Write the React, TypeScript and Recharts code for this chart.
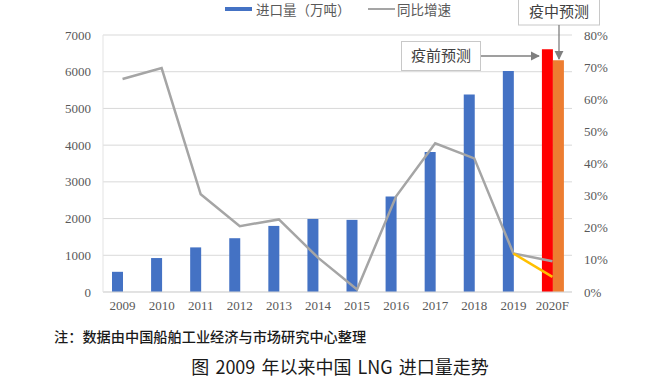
import React from 'react';
import {
  ComposedChart,
  Bar,
  Line,
  Cell,
  XAxis,
  YAxis,
  CartesianGrid,
} from 'recharts';

const years = ['2009', '2010', '2011', '2012', '2013', '2014', '2015', '2016', '2017', '2018', '2019', '2020F'];
// 进口量（万吨）; last one is the pre-epidemic forecast (red)
const imports = [550, 925, 1215, 1465, 1800, 1990, 1965, 2600, 3810, 5380, 6020, 6610];
// mid-epidemic forecast (orange), 2020F only
const midForecast = [null, null, null, null, null, null, null, null, null, null, null, 6310];
// 同比增速
const growth = [0.663, 0.697, 0.304, 0.205, 0.226, 0.107, 0.008, 0.298, 0.463, 0.416, 0.12, 0.096];
// epidemic-adjusted growth, yellow segment
const growthMid = [null, null, null, null, null, null, null, null, null, null, 0.12, 0.047];

const leftTicks = [0, 1000, 2000, 3000, 4000, 5000, 6000, 7000];
const rightTicks = [0, 0.1, 0.2, 0.3, 0.4, 0.5, 0.6, 0.7, 0.8];

const data = years.map((year, i) => ({
  year,
  imports: imports[i],
  mid: midForecast[i],
  growth: growth[i],
  growthMid: growthMid[i],
}));

const tickStyle = { fontFamily: '"Liberation Serif", serif', fontSize: 13, fill: '#595959' };
const cjk = '"Noto Sans CJK SC", sans-serif';

const App: React.FC = () => {
  return (
    <div style={{ position: 'absolute', left: 0, top: 0, width: 670, height: 380, background: '#fff', fontFamily: cjk }}>
      <ComposedChart
        width={670}
        height={330}
        data={data}
        margin={{ top: 35, right: 0, left: 0, bottom: 8 }}
        barGap={0}
        style={{ position: 'absolute', left: 0, top: 0 }}
      >
        <CartesianGrid yAxisId="left" vertical={false} stroke="#d9d9d9" />
        <XAxis
          dataKey="year"
          height={30}
          tickSize={0}
          tickMargin={9}
          tick={tickStyle}
          axisLine={{ stroke: '#d9d9d9' }}
          interval={0}
        />
        <YAxis
          yAxisId="left"
          width={103}
          domain={[0, 7000]}
          ticks={leftTicks}
          tickSize={0}
          tickMargin={12}
          tick={tickStyle}
          axisLine={{ stroke: '#e3e3e3' }}
        />
        <YAxis
          yAxisId="right"
          orientation="right"
          width={98}
          domain={[0, 0.8]}
          ticks={rightTicks}
          tickFormatter={(v: number) => `${Math.round(v * 100)}%`}
          tickSize={0}
          tickMargin={12}
          tick={tickStyle}
          axisLine={false}
        />
        <Bar yAxisId="left" dataKey="imports" barSize={11} fill="#4472c4" isAnimationActive={false}>
          {data.map((d, i) => (
            <Cell key={d.year} fill={i === data.length - 1 ? '#ff0000' : '#4472c4'} />
          ))}
        </Bar>
        <Bar yAxisId="left" dataKey="mid" barSize={11} fill="#ed7d31" isAnimationActive={false} />
        <Line
          yAxisId="right"
          dataKey="growth"
          stroke="#a5a5a5"
          strokeWidth={2.5}
          dot={false}
          isAnimationActive={false}
        />
        <Line
          yAxisId="right"
          dataKey="growthMid"
          stroke="#ffc000"
          strokeWidth={2.5}
          dot={false}
          isAnimationActive={false}
        />
      </ComposedChart>

      {/* legend */}
      <div style={{ position: 'absolute', left: 225, top: 7, width: 27, height: 4, background: '#4472c4' }} />
      <div style={{ position: 'absolute', left: 256, top: 0, fontSize: 13.5, lineHeight: '18px', color: '#595959' }}>
        进口量（万吨）
      </div>
      <div style={{ position: 'absolute', left: 368, top: 8, width: 27, height: 2, background: '#a5a5a5' }} />
      <div style={{ position: 'absolute', left: 397, top: 0, fontSize: 13.5, lineHeight: '18px', color: '#595959' }}>
        同比增速
      </div>

      {/* callouts */}
      <svg width={670} height={380} style={{ position: 'absolute', left: 0, top: 0, pointerEvents: 'none' }}>
        <defs>
          <marker id="arr" viewBox="0 0 10 10" refX="9" refY="5" markerWidth="7" markerHeight="7" orient="auto">
            <path d="M0,0 L10,5 L0,10 z" fill="#7f7f7f" />
          </marker>
        </defs>
        <rect x={401.5} y={41.5} width={79} height={29} fill="#fff" stroke="#c8c8c8" />
        <text x={441} y={57} textAnchor="middle" dominantBaseline="middle" fontSize={15} fill="#404040" fontFamily={cjk}>
          疫前预测
        </text>
        <line x1={481} y1={56} x2={539} y2={56} stroke="#7f7f7f" strokeWidth={1.3} markerEnd="url(#arr)" />
        <rect x={518.5} y={-2} width={81} height={27} fill="#fff" stroke="#c8c8c8" />
        <text x={559} y={13} textAnchor="middle" dominantBaseline="middle" fontSize={15} fill="#404040" fontFamily={cjk}>
          疫中预测
        </text>
        <line x1={559} y1={25} x2={559} y2={59} stroke="#7f7f7f" strokeWidth={1.3} markerEnd="url(#arr)" />
      </svg>

      {/* footer */}
      <div style={{ position: 'absolute', left: 54, top: 326, fontSize: 14.2, lineHeight: '20px', color: '#1a1a1a', fontWeight: 500 }}>
        注：数据由中国船舶工业经济与市场研究中心整理
      </div>
      <div style={{ position: 'absolute', left: 0, width: 680, top: 354, textAlign: 'center', fontSize: 18, lineHeight: '24px', color: '#1a1a1a', wordSpacing: 2 }}>
        图 2009 年以来中国 LNG 进口量走势
      </div>
    </div>
  );
};

export default App;
